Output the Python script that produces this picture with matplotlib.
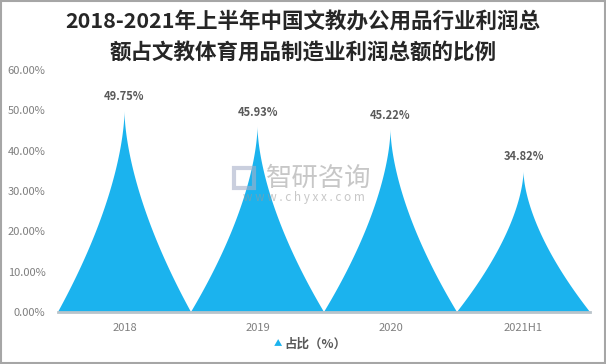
import numpy as np
import matplotlib.pyplot as plt
from matplotlib.patches import Polygon, Rectangle

plt.rcParams['font.family'] = ['Noto Sans CJK SC', 'DejaVu Sans']

categories = ['2018', '2019', '2020', '2021H1']
share = [49.75, 45.93, 45.22, 34.82]
labels = ['49.75%', '45.93%', '45.22%', '34.82%']

bar_color = '#1bb3ee'
grey = '#7f7f7f'

fig = plt.figure(figsize=(6.06, 3.64), dpi=100)
ax = fig.add_axes([58 / 606, 52 / 364, 532 / 606, 242 / 364])

# spiky "pictorial" bars: concave sides from category edge to peak
t = np.linspace(0, 1, 80)
for i, v in enumerate(share):
    left_x = i - 0.5 * (1 - t) ** 1.65
    right_x = i + 0.5 * (1 - t[::-1]) ** 1.65
    ys = np.concatenate([t * v, t[::-1] * v])
    xs = np.concatenate([left_x, right_x])
    ax.add_patch(Polygon(np.column_stack([xs, ys]), closed=True,
                         facecolor=bar_color, edgecolor='none', zorder=2))
    ax.text(i, v + 2.0, labels[i], ha='center', va='bottom', fontsize=8,
            color='#595959', fontweight='bold')

ax.set_xlim(-0.5, len(categories) - 0.5)
ax.set_ylim(0, 60)
ax.set_xticks(range(len(categories)))
ax.set_xticklabels(categories)
ax.set_yticks(np.arange(0, 61, 10))
ax.set_yticklabels([f'{v:.2f}%' for v in range(0, 61, 10)])
ax.tick_params(axis='both', length=0, colors=grey, labelsize=8)
ax.tick_params(axis='y', pad=9)
ax.tick_params(axis='x', pad=8)
for s in ['top', 'right', 'left']:
    ax.spines[s].set_visible(False)
ax.spines['bottom'].set_color('#b9c4cb')
ax.spines['bottom'].set_linewidth(2)
ax.spines['bottom'].set_zorder(3)

fig.text(0.5, 0.94, '2018-2021年上半年中国文教办公用品行业利润总',
         ha='center', va='center', fontsize=15.5, fontweight='bold', color='#262626')
fig.text(0.5, 0.855, '额占文教体育用品制造业利润总额的比例',
         ha='center', va='center', fontsize=15.5, fontweight='bold', color='#262626')

# watermark
wm = '#9a9a9a'
fig.text(319 / 606, 1 - 178 / 364, '智研咨询', ha='center', va='center',
         fontsize=19, color=wm, alpha=0.55, zorder=10)
fig.text(304 / 606, 1 - 197 / 364, 'w w w . c h y x x . c o m', ha='center',
         va='center', fontsize=8.5, color=wm, alpha=0.55, zorder=10)
fig.patches.append(Rectangle((234 / 606, 1 - 188 / 364), 20 / 606, 20 / 364,
                             transform=fig.transFigure, facecolor='none',
                             edgecolor='#a8b0c8', linewidth=3, alpha=0.6, zorder=10))

# legend
fig.text(278 / 606, 1 - 344 / 364, '▲', ha='center', va='center',
         fontsize=6, color=bar_color)
fig.text(284 / 606, 1 - 344 / 364, '占比（%）', ha='left', va='center',
         fontsize=9, color='#595959', fontweight='bold')

# figure border
fig.patches.append(Rectangle((0.001, 0.002), 0.997, 0.995, transform=fig.transFigure,
                             facecolor='none', edgecolor='#a6a6a6', linewidth=1.5))

fig.savefig('out.png', dpi=100)
